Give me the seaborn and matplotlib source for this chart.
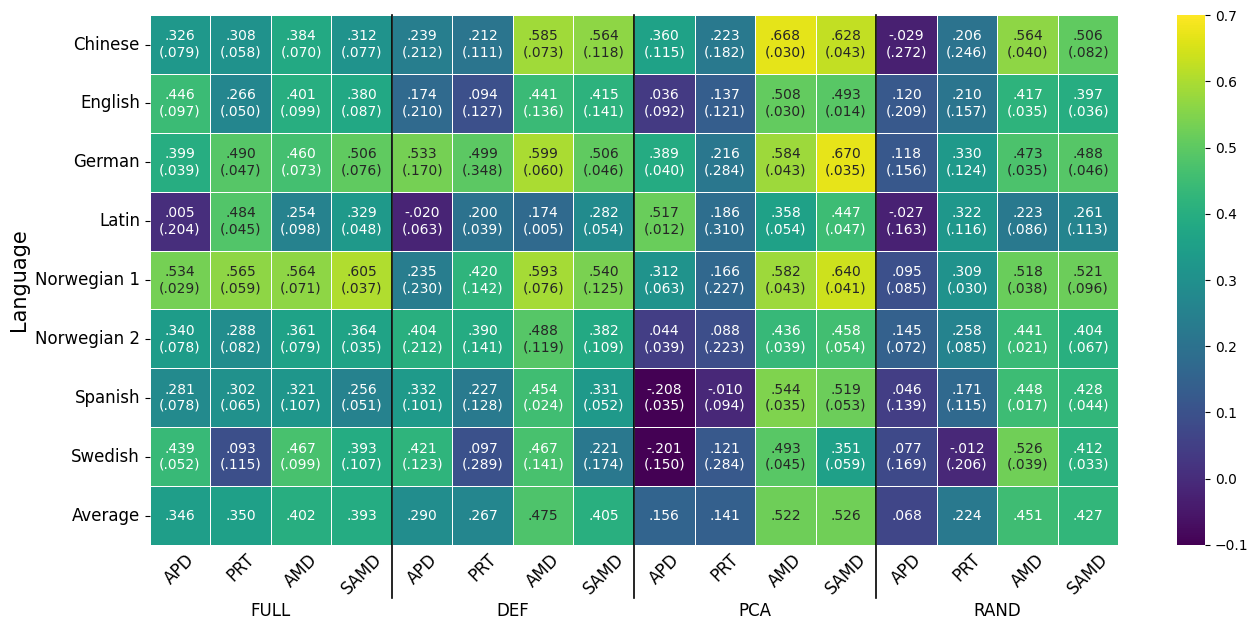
import matplotlib
matplotlib.use("Agg")
import matplotlib.pyplot as plt
import matplotlib.transforms as mtransforms
import numpy as np
import pandas as pd
import seaborn as sns

# languages (rows) and methods (columns, grouped in 4 settings)
languages = ['Chinese', 'English', 'German', 'Latin', 'Norwegian 1',
             'Norwegian 2', 'Spanish', 'Swedish', 'Average']
methods = ['APD', 'PRT', 'AMD', 'SAMD']
groups = ['FULL', 'DEF', 'PCA', 'RAND']

# mean scores, one list per language
chinese = [.326, .308, .384, .312, .239, .212, .585, .564, .360, .223, .668, .628, -.029, .206, .564, .506]
english = [.446, .266, .401, .380, .174, .094, .441, .415, .036, .137, .508, .493, .120, .210, .417, .397]
german = [.399, .490, .460, .506, .533, .499, .599, .506, .389, .216, .584, .670, .118, .330, .473, .488]
latin = [.005, .484, .254, .329, -.020, .200, .174, .282, .517, .186, .358, .447, -.027, .322, .223, .261]
norwegian1 = [.534, .565, .564, .605, .235, .420, .593, .540, .312, .166, .582, .640, .095, .309, .518, .521]
norwegian2 = [.340, .288, .361, .364, .404, .390, .488, .382, .044, .088, .436, .458, .145, .258, .441, .404]
spanish = [.281, .302, .321, .256, .332, .227, .454, .331, -.208, -.010, .544, .519, .046, .171, .448, .428]
swedish = [.439, .093, .467, .393, .421, .097, .467, .221, -.201, .121, .493, .351, .077, -.012, .526, .412]
average = [.346, .350, .402, .393, .290, .267, .475, .405, .156, .141, .522, .526, .068, .224, .451, .427]

# standard deviations (none for the average row)
chinese_sd = [.079, .058, .070, .077, .212, .111, .073, .118, .115, .182, .030, .043, .272, .246, .040, .082]
english_sd = [.097, .050, .099, .087, .210, .127, .136, .141, .092, .121, .030, .014, .209, .157, .035, .036]
german_sd = [.039, .047, .073, .076, .170, .348, .060, .046, .040, .284, .043, .035, .156, .124, .035, .046]
latin_sd = [.204, .045, .098, .048, .063, .039, .005, .054, .012, .310, .054, .047, .163, .116, .086, .113]
norwegian1_sd = [.029, .059, .071, .037, .230, .142, .076, .125, .063, .227, .043, .041, .085, .030, .038, .096]
norwegian2_sd = [.078, .082, .079, .035, .212, .141, .119, .109, .039, .223, .039, .054, .072, .085, .021, .067]
spanish_sd = [.078, .065, .107, .051, .101, .128, .024, .052, .035, .094, .035, .053, .139, .115, .017, .044]
swedish_sd = [.052, .115, .099, .107, .123, .289, .141, .174, .150, .284, .045, .059, .169, .206, .039, .033]

means = np.array([chinese, english, german, latin, norwegian1, norwegian2,
                  spanish, swedish, average])
sds = [chinese_sd, english_sd, german_sd, latin_sd, norwegian1_sd,
       norwegian2_sd, spanish_sd, swedish_sd, None]


def fmt(v):
    # drop the leading zero: 0.326 -> .326, -0.029 -> -.029
    s = f"{v:.3f}"
    return s.replace("0.", ".", 1)


annot = []
for row, sd in zip(means, sds):
    if sd is None:
        annot.append([fmt(v) for v in row])
    else:
        annot.append([f"{fmt(v)}\n({fmt(s)})" for v, s in zip(row, sd)])
annot = np.array(annot)

df = pd.DataFrame(means, index=languages, columns=methods * len(groups))

fig = plt.figure(figsize=(12.58, 6.3), dpi=100)
ax = fig.add_axes([0.119, 0.135, 0.770, 0.841])
cax = fig.add_axes([0.936, 0.135, 0.022, 0.841])

sns.heatmap(df, ax=ax, cbar_ax=cax, cmap='viridis', vmin=-0.1, vmax=0.7,
            annot=annot, fmt='', linewidths=0.5, linecolor='white',
            annot_kws={'fontsize': 10})

ax.set_ylabel('Language', fontsize=15)
ax.set_xlabel('')
ax.tick_params(axis='x', length=0, labelsize=12, pad=4)
ax.tick_params(axis='y', labelsize=12)
plt.setp(ax.get_xticklabels(), rotation=45, ha='center', rotation_mode='default')
plt.setp(ax.get_yticklabels(), rotation=0)
cax.tick_params(labelsize=10)

# separators between groups, running below the axis
for k in range(1, len(groups)):
    ax.plot([4 * k, 4 * k], [0, 9.9], color='black', lw=1.2, clip_on=False)

trans = mtransforms.blended_transform_factory(ax.transData, ax.transAxes)
for i, g in enumerate(groups):
    ax.text(4 * i + 2, -0.125, g, transform=trans, ha='center', va='center',
            fontsize=12)

fig.savefig('out.png', dpi=100)
